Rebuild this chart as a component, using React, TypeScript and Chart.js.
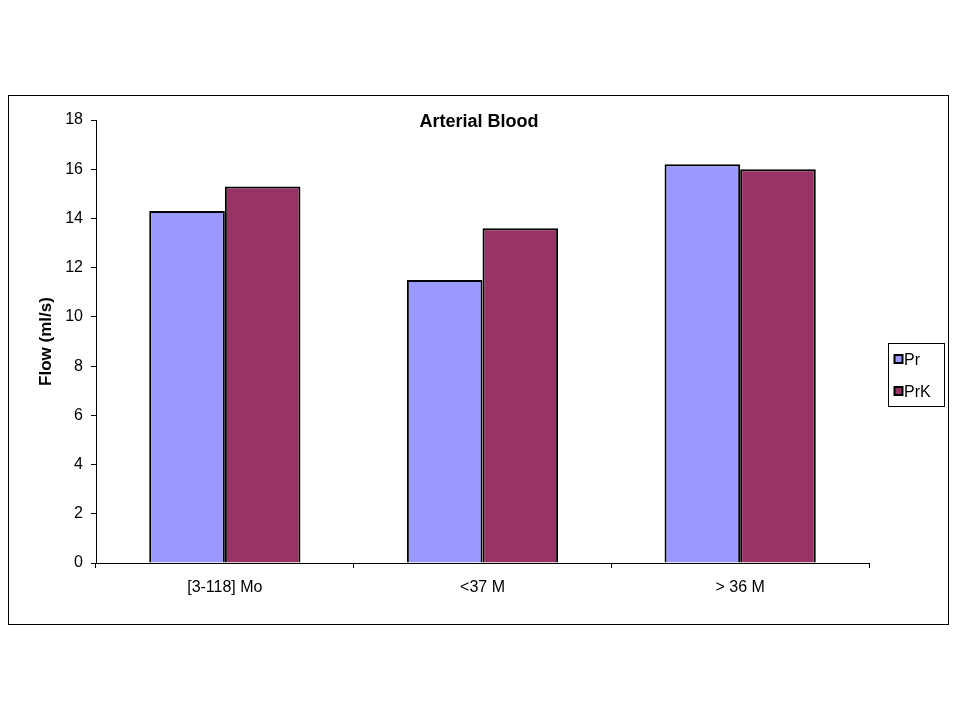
import React, { useEffect, useRef } from "react";
import { Chart, registerables } from "chart.js";

Chart.register(...registerables);

const categories = ["[3-118] Mo", "<37 M", "> 36 M"];
const prValues = [14.3, 11.5, 16.2];
const prkValues = [15.3, 13.6, 16.0];
const seriesNames = ["Pr", "PrK"];
const seriesColors = ["#9999FF", "#993366"];
const chartTitle = "Arterial Blood";
const yAxisTitle = "Flow (ml/s)";

const FONT = "'Liberation Sans', Arial, sans-serif";

const overlayPlugin = {
  id: "overlay",
  afterDraw(chart: any) {
    const ctx = chart.ctx;
    ctx.save();
    // Title
    ctx.fillStyle = "#000";
    ctx.font = `bold 18px ${FONT}`;
    ctx.textAlign = "center";
    ctx.textBaseline = "alphabetic";
    ctx.fillText(chartTitle, 470, 30.5);

    // Legend box
    ctx.strokeStyle = "#000";
    ctx.lineWidth = 1;
    ctx.strokeRect(879.5, 247.5, 56, 63);
    ctx.font = `16px ${FONT}`;
    ctx.textAlign = "left";
    const rows = [268.5, 300.5];
    seriesNames.forEach((name, i) => {
      const y = rows[i];
      ctx.fillStyle = seriesColors[i];
      ctx.fillRect(885.5, y - 9.5, 8, 8);
      ctx.lineWidth = 2;
      ctx.strokeStyle = "#000";
      ctx.strokeRect(885.5, y - 9.5, 8, 8);
      ctx.fillStyle = "#000";
      ctx.fillText(name, 895, y);
    });
    ctx.restore();
  },
};

export default function App() {
  const ref = useRef<HTMLCanvasElement>(null);
  useEffect(() => {
    if (!ref.current) return;
    const chart = new Chart(ref.current, {
      type: "bar",
      data: {
        labels: categories,
        datasets: [
          {
            label: seriesNames[0],
            data: prValues,
            backgroundColor: seriesColors[0],
            borderColor: "#000",
            borderWidth: 2,
          },
          {
            label: seriesNames[1],
            data: prkValues,
            backgroundColor: seriesColors[1],
            borderColor: "#000",
            borderWidth: 2,
          },
        ],
      },
      options: {
        responsive: false,
        animation: false,
        datasets: { bar: { categoryPercentage: 0.587, barPercentage: 1.0 } },
        layout: { padding: { top: 24, right: 79, left: 0, bottom: 0 } },
        plugins: { legend: { display: false }, title: { display: false }, tooltip: { enabled: false } },
        scales: {
          x: {
            afterFit: (s: any) => {
              s.height = 61;
            },
            grid: { drawOnChartArea: false, drawTicks: true, tickLength: 5, color: "#000" },
            border: { display: true, color: "#000", width: 1 },
            ticks: { color: "#000", font: { family: FONT, size: 16 }, padding: 10, maxRotation: 0 },
          },
          y: {
            min: 0,
            max: 18,
            afterFit: (s: any) => {
              s.width = 87;
            },
            grid: { drawOnChartArea: false, drawTicks: true, tickLength: 5, color: "#000" },
            border: { display: true, color: "#000", width: 1 },
            ticks: { stepSize: 2, color: "#000", font: { family: FONT, size: 16 }, padding: 8 },
            title: {
              display: true,
              text: yAxisTitle,
              color: "#000",
              font: { family: FONT, size: 17, weight: "bold" },
              padding: { top: 27, bottom: 0 },
            },
          },
        },
      },
      plugins: [overlayPlugin],
    });
    return () => chart.destroy();
  }, []);

  return (
    <div
      style={{
        position: "absolute",
        left: 8,
        top: 95,
        width: 941,
        height: 530,
        border: "1px solid #000",
        boxSizing: "border-box",
        background: "#fff",
      }}
    >
      <canvas ref={ref} width={939} height={528} style={{ display: "block" }} />
    </div>
  );
}
